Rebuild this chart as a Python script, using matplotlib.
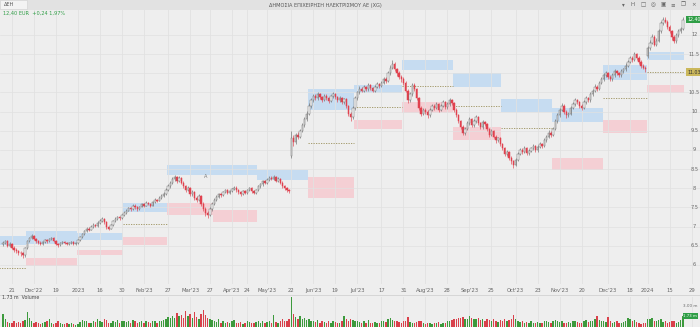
import matplotlib
matplotlib.use("Agg")
import matplotlib.pyplot as plt
from matplotlib.patches import Rectangle
import numpy as np

# ── Data (daily bars, Nov 2022 -> Jan 2024, one line per month) ──────────────
opens = [
    6.55, 6.58, 6.62, 6.50, 6.55, 6.45, 6.40, 6.36, 6.32, 6.30, 6.25, 6.45,
    6.62, 6.70, 6.75, 6.68, 6.62, 6.58, 6.55, 6.60, 6.65, 6.62, 6.68, 6.70, 6.63, 6.55, 6.52, 6.58, 6.60, 6.57, 6.55, 6.58, 6.60, 6.55,
    6.58, 6.65, 6.72, 6.80, 6.88, 6.95, 6.92, 7.00, 7.05, 7.02, 7.10, 7.15, 7.20, 7.12, 7.00, 6.95, 7.05, 7.15, 7.20, 7.25, 7.22,
    7.30, 7.35, 7.42, 7.48, 7.45, 7.55, 7.50, 7.45, 7.52, 7.58, 7.55, 7.62, 7.60, 7.55, 7.65, 7.70, 7.68, 7.75, 7.80, 7.85,
    7.95, 8.05, 8.15, 8.25, 8.30, 8.20, 8.28, 8.15, 8.05, 7.95, 8.00, 7.85, 7.90, 7.75, 7.70, 7.80, 7.60, 7.45, 7.35, 7.30, 7.45,
    7.60, 7.70, 7.78, 7.85, 7.82, 7.90, 7.95, 7.88, 7.92, 7.98, 8.02, 7.95, 7.90, 7.85, 7.92, 7.88, 7.95, 8.00, 7.93, 7.88,
    7.95, 8.05, 8.10, 8.18, 8.15, 8.22, 8.28, 8.25, 8.30, 8.20, 8.25, 8.15, 8.05, 8.00, 7.95, 8.85, 9.30, 9.20, 9.40, 9.35, 9.50, 9.65, 9.80,
    9.95, 10.15, 10.30, 10.40, 10.35, 10.45, 10.38, 10.30, 10.42, 10.35, 10.28, 10.40, 10.45, 10.38, 10.30, 10.35, 10.25, 10.32, 10.15, 9.95, 9.85,
    10.10, 10.35, 10.50, 10.60, 10.55, 10.65, 10.58, 10.70, 10.62, 10.55, 10.65, 10.72, 10.68, 10.75, 10.85, 10.80, 11.00, 11.15, 11.25, 11.10, 11.00, 10.90,
    10.85, 10.75, 10.55, 10.30, 10.45, 10.70, 10.60, 10.35, 10.10, 9.95, 10.05, 10.00, 9.90, 10.05, 10.15, 10.10, 10.20, 10.05, 10.15, 10.25, 10.12, 10.20, 10.30,
    10.22, 10.05, 9.90, 9.75, 9.60, 9.45, 9.55, 9.70, 9.80, 9.65, 9.75, 9.85, 9.70, 9.60, 9.72, 9.68, 9.55, 9.40, 9.50, 9.35, 9.25, 9.30,
    9.15, 9.05, 8.90, 8.95, 8.80, 8.70, 8.62, 8.75, 8.90, 9.00, 8.95, 9.05, 8.92, 8.98, 9.05, 9.10, 9.00, 9.08, 9.15, 9.10, 9.25, 9.35, 9.45,
    9.40, 9.55, 9.75, 9.90, 10.05, 10.15, 10.00, 9.90, 9.95, 10.10, 10.20, 10.30, 10.25, 10.15, 10.10, 10.25, 10.35, 10.30, 10.45, 10.55, 10.65, 10.60, 10.75,
    10.85, 10.95, 11.00, 10.90, 10.85, 10.95, 11.05, 11.00, 10.95, 11.05, 11.10, 11.20, 11.30, 11.40, 11.35, 11.50, 11.40, 11.30, 11.20, 11.15,
    11.45, 11.65, 11.80, 11.95, 11.75, 11.85, 12.10, 12.30, 12.40, 12.35, 12.20, 12.10, 11.95, 11.85, 12.00, 12.10, 12.16,
]
highs = [
    6.63, 6.66, 6.65, 6.59, 6.58, 6.49, 6.44, 6.40, 6.36, 6.34, 6.48, 6.66,
    6.74, 6.80, 6.78, 6.71, 6.66, 6.62, 6.63, 6.69, 6.68, 6.71, 6.74, 6.72, 6.66, 6.58, 6.61, 6.63, 6.63, 6.60, 6.61, 6.63, 6.62, 6.61,
    6.68, 6.76, 6.84, 6.92, 6.99, 6.98, 7.04, 7.09, 7.08, 7.14, 7.19, 7.25, 7.22, 7.14, 7.03, 7.08, 7.18, 7.24, 7.29, 7.28, 7.34,
    7.40, 7.46, 7.52, 7.51, 7.58, 7.58, 7.53, 7.55, 7.62, 7.61, 7.66, 7.65, 7.63, 7.68, 7.74, 7.73, 7.79, 7.84, 7.90, 8.00,
    8.10, 8.20, 8.30, 8.36, 8.33, 8.32, 8.30, 8.18, 8.08, 8.05, 8.03, 7.95, 7.93, 7.80, 7.84, 7.83, 7.64, 7.50, 7.40, 7.50, 7.65,
    7.74, 7.82, 7.89, 7.88, 7.94, 7.99, 7.98, 7.96, 8.02, 8.07, 8.05, 7.98, 7.93, 7.96, 7.95, 7.99, 8.04, 8.03, 7.96, 7.99,
    8.09, 8.14, 8.22, 8.21, 8.26, 8.32, 8.31, 8.35, 8.33, 8.29, 8.28, 8.18, 8.09, 8.04, 7.98, 9.50, 9.38, 9.45, 9.48, 9.56, 9.70, 9.86, 10.02,
    10.22, 10.36, 10.46, 10.45, 10.50, 10.49, 10.42, 10.46, 10.46, 10.39, 10.44, 10.50, 10.48, 10.41, 10.40, 10.38, 10.36, 10.35, 10.18, 10.00, 10.15,
    10.40, 10.55, 10.66, 10.64, 10.70, 10.68, 10.75, 10.73, 10.65, 10.69, 10.77, 10.76, 10.80, 10.90, 10.90, 11.06, 11.22, 11.35, 11.30, 11.15, 11.05, 10.95,
    10.90, 10.80, 10.58, 10.52, 10.76, 10.74, 10.63, 10.38, 10.14, 10.10, 10.09, 10.04, 10.10, 10.20, 10.19, 10.25, 10.23, 10.19, 10.30, 10.28, 10.25, 10.36, 10.34,
    10.25, 10.09, 9.94, 9.79, 9.64, 9.60, 9.75, 9.86, 9.84, 9.80, 9.90, 9.88, 9.74, 9.77, 9.76, 9.71, 9.58, 9.55, 9.53, 9.39, 9.35, 9.33,
    9.19, 9.08, 9.00, 8.98, 8.84, 8.74, 8.80, 8.95, 9.05, 9.04, 9.10, 9.08, 9.03, 9.09, 9.15, 9.13, 9.12, 9.20, 9.19, 9.30, 9.40, 9.51, 9.50,
    9.60, 9.80, 9.96, 10.10, 10.22, 10.19, 10.04, 10.00, 10.15, 10.25, 10.36, 10.34, 10.28, 10.19, 10.30, 10.40, 10.39, 10.50, 10.60, 10.71, 10.70, 10.80, 10.91,
    11.00, 11.06, 11.04, 10.95, 11.00, 11.10, 11.09, 11.04, 11.10, 11.15, 11.26, 11.36, 11.46, 11.45, 11.56, 11.54, 11.44, 11.35, 11.25, 11.20,
    11.72, 11.86, 12.02, 11.99, 11.92, 12.16, 12.36, 12.48, 12.46, 12.40, 12.25, 12.14, 12.00, 12.06, 12.15, 12.22, 12.48,
]
lows = [
    6.50, 6.55, 6.46, 6.47, 6.41, 6.35, 6.31, 6.27, 6.24, 6.18, 6.22, 6.43,
    6.60, 6.67, 6.64, 6.58, 6.54, 6.51, 6.52, 6.57, 6.58, 6.60, 6.65, 6.60, 6.52, 6.48, 6.50, 6.55, 6.54, 6.52, 6.53, 6.56, 6.51, 6.52,
    6.56, 6.63, 6.70, 6.78, 6.85, 6.88, 6.90, 6.97, 6.98, 7.00, 7.07, 7.12, 7.08, 6.95, 6.90, 6.93, 7.03, 7.12, 7.17, 7.18, 7.20,
    7.27, 7.33, 7.40, 7.41, 7.43, 7.46, 7.41, 7.43, 7.50, 7.51, 7.53, 7.56, 7.51, 7.53, 7.62, 7.64, 7.66, 7.72, 7.77, 7.83,
    7.92, 8.02, 8.12, 8.20, 8.15, 8.17, 8.10, 8.00, 7.90, 7.92, 7.80, 7.81, 7.70, 7.64, 7.66, 7.55, 7.40, 7.28, 7.22, 7.27, 7.42,
    7.57, 7.67, 7.75, 7.78, 7.80, 7.87, 7.84, 7.85, 7.90, 7.95, 7.91, 7.86, 7.80, 7.82, 7.84, 7.85, 7.92, 7.89, 7.84, 7.85,
    7.92, 8.02, 8.07, 8.11, 8.12, 8.19, 8.21, 8.22, 8.16, 8.17, 8.11, 8.01, 7.95, 7.90, 7.87, 8.80, 9.10, 9.15, 9.28, 9.32, 9.46, 9.60, 9.76,
    9.90, 10.10, 10.26, 10.30, 10.31, 10.33, 10.25, 10.27, 10.30, 10.22, 10.25, 10.36, 10.33, 10.25, 10.26, 10.20, 10.21, 10.10, 9.88, 9.75, 9.80,
    10.05, 10.31, 10.46, 10.50, 10.51, 10.53, 10.55, 10.57, 10.50, 10.52, 10.61, 10.63, 10.65, 10.71, 10.75, 10.77, 10.96, 11.10, 11.05, 10.94, 10.84, 10.78,
    10.70, 10.50, 10.22, 10.26, 10.42, 10.55, 10.30, 10.04, 9.88, 9.90, 9.95, 9.84, 9.87, 10.01, 10.05, 10.07, 10.00, 10.01, 10.11, 10.07, 10.08, 10.16, 10.17,
    10.00, 9.85, 9.70, 9.54, 9.38, 9.40, 9.51, 9.66, 9.60, 9.61, 9.71, 9.65, 9.55, 9.56, 9.63, 9.50, 9.34, 9.36, 9.30, 9.19, 9.21, 9.10,
    8.99, 8.84, 8.85, 8.74, 8.63, 8.52, 8.58, 8.71, 8.86, 8.90, 8.91, 8.87, 8.88, 8.94, 9.01, 8.95, 8.96, 9.04, 9.05, 9.07, 9.21, 9.31, 9.35,
    9.36, 9.51, 9.71, 9.86, 10.01, 9.95, 9.84, 9.85, 9.91, 10.06, 10.16, 10.20, 10.10, 10.04, 10.06, 10.21, 10.25, 10.26, 10.41, 10.51, 10.55, 10.56, 10.71,
    10.80, 10.90, 10.85, 10.79, 10.81, 10.91, 10.95, 10.90, 10.91, 11.01, 11.06, 11.16, 11.26, 11.30, 11.31, 11.35, 11.25, 11.15, 11.10, 11.04,
    11.40, 11.60, 11.76, 11.70, 11.70, 11.81, 12.06, 12.25, 12.30, 12.15, 12.04, 11.88, 11.78, 11.80, 11.96, 12.05, 12.12,
]
closes = [
    6.58, 6.62, 6.50, 6.55, 6.45, 6.40, 6.36, 6.32, 6.30, 6.25, 6.45, 6.62,
    6.70, 6.75, 6.68, 6.62, 6.58, 6.55, 6.60, 6.65, 6.62, 6.68, 6.70, 6.63, 6.55, 6.52, 6.58, 6.60, 6.57, 6.55, 6.58, 6.60, 6.55, 6.58,
    6.65, 6.72, 6.80, 6.88, 6.95, 6.92, 7.00, 7.05, 7.02, 7.10, 7.15, 7.20, 7.12, 7.00, 6.95, 7.05, 7.15, 7.20, 7.25, 7.22, 7.30,
    7.35, 7.42, 7.48, 7.45, 7.55, 7.50, 7.45, 7.52, 7.58, 7.55, 7.62, 7.60, 7.55, 7.65, 7.70, 7.68, 7.75, 7.80, 7.85, 7.95,
    8.05, 8.15, 8.25, 8.30, 8.20, 8.28, 8.15, 8.05, 7.95, 8.00, 7.85, 7.90, 7.75, 7.70, 7.80, 7.60, 7.45, 7.35, 7.30, 7.45, 7.60,
    7.70, 7.78, 7.85, 7.82, 7.90, 7.95, 7.88, 7.92, 7.98, 8.02, 7.95, 7.90, 7.85, 7.92, 7.88, 7.95, 8.00, 7.93, 7.88, 7.95,
    8.05, 8.10, 8.18, 8.15, 8.22, 8.28, 8.25, 8.30, 8.20, 8.25, 8.15, 8.05, 8.00, 7.95, 7.92, 9.30, 9.20, 9.40, 9.35, 9.50, 9.65, 9.80, 9.95,
    10.15, 10.30, 10.40, 10.35, 10.45, 10.38, 10.30, 10.42, 10.35, 10.28, 10.40, 10.45, 10.38, 10.30, 10.35, 10.25, 10.32, 10.15, 9.95, 9.85, 10.10,
    10.35, 10.50, 10.60, 10.55, 10.65, 10.58, 10.70, 10.62, 10.55, 10.65, 10.72, 10.68, 10.75, 10.85, 10.80, 11.00, 11.15, 11.25, 11.10, 11.00, 10.90, 10.85,
    10.75, 10.55, 10.30, 10.45, 10.70, 10.60, 10.35, 10.10, 9.95, 10.05, 10.00, 9.90, 10.05, 10.15, 10.10, 10.20, 10.05, 10.15, 10.25, 10.12, 10.20, 10.30, 10.22,
    10.05, 9.90, 9.75, 9.60, 9.45, 9.55, 9.70, 9.80, 9.65, 9.75, 9.85, 9.70, 9.60, 9.72, 9.68, 9.55, 9.40, 9.50, 9.35, 9.25, 9.30, 9.15,
    9.05, 8.90, 8.95, 8.80, 8.70, 8.62, 8.75, 8.90, 9.00, 8.95, 9.05, 8.92, 8.98, 9.05, 9.10, 9.00, 9.08, 9.15, 9.10, 9.25, 9.35, 9.45, 9.40,
    9.55, 9.75, 9.90, 10.05, 10.15, 10.00, 9.90, 9.95, 10.10, 10.20, 10.30, 10.25, 10.15, 10.10, 10.25, 10.35, 10.30, 10.45, 10.55, 10.65, 10.60, 10.75, 10.85,
    10.95, 11.00, 10.90, 10.85, 10.95, 11.05, 11.00, 10.95, 11.05, 11.10, 11.20, 11.30, 11.40, 11.35, 11.50, 11.40, 11.30, 11.20, 11.15, 11.10,
    11.65, 11.80, 11.95, 11.75, 11.85, 12.10, 12.30, 12.40, 12.35, 12.20, 12.10, 11.95, 11.85, 12.00, 12.10, 12.16, 12.40,
]
volumes = [  # millions of shares
    2.0, 1.2, 0.8, 0.6, 0.7, 0.9, 0.6, 0.8, 0.7, 1.0, 1.1, 2.3,
    1.4, 0.9, 0.7, 0.8, 0.6, 0.5, 0.7, 0.8, 0.9, 1.2, 0.6, 0.5, 0.7, 0.9, 0.6, 0.5, 0.4, 0.6, 0.5, 0.7, 0.4, 0.3,
    0.5, 0.8, 1.1, 0.9, 1.0, 0.7, 0.6, 0.9, 0.8, 1.2, 0.9, 0.8, 1.3, 1.1, 0.7, 0.6, 0.9, 0.8, 1.1, 0.7, 0.9,
    1.0, 0.8, 0.9, 0.7, 1.1, 0.9, 0.6, 0.8, 1.0, 0.7, 0.9, 0.8, 0.6, 1.0, 0.9, 0.7, 1.0, 0.9, 1.1, 1.3,
    1.6, 1.4, 1.8, 1.5, 2.2, 1.7, 1.9, 1.5, 2.6, 1.8, 2.0, 1.4, 2.4, 1.6, 1.3, 2.1, 2.7, 1.9, 1.5, 1.2, 1.1,
    1.0, 0.8, 1.2, 0.7, 0.9, 0.6, 0.8, 0.7, 0.9, 1.1, 0.6, 0.7, 0.8, 0.5, 0.6, 0.9, 0.8, 0.6, 0.7, 0.8,
    0.9, 0.7, 1.0, 0.6, 0.8, 0.9, 0.7, 1.9, 0.8, 0.6, 0.9, 1.2, 1.0, 1.0, 1.3, 4.7, 2.0, 1.6, 1.3, 1.8, 1.2, 1.5, 1.1,
    1.2, 1.0, 0.9, 0.8, 1.1, 0.7, 0.9, 0.8, 0.6, 0.9, 0.7, 1.0, 0.8, 0.6, 0.7, 0.9, 1.7, 1.2, 1.0, 1.3, 1.1,
    0.9, 1.0, 0.8, 0.7, 0.9, 0.6, 1.1, 0.7, 0.6, 0.8, 0.7, 0.6, 0.9, 1.0, 0.8, 1.2, 1.4, 1.1, 0.9, 1.0, 0.8, 0.7,
    0.9, 1.0, 1.6, 0.8, 0.7, 0.6, 0.8, 1.0, 0.9, 0.6, 0.5, 0.7, 0.6, 0.5, 0.7, 0.6, 0.8, 0.5, 0.6, 0.7, 0.9, 1.0, 1.1,
    1.3, 1.2, 1.4, 1.5, 1.6, 1.3, 1.2, 1.8, 1.4, 1.2, 1.3, 1.5, 1.1, 1.2, 1.0, 1.3, 1.1, 0.9, 1.2, 1.0, 0.8, 1.1,
    1.0, 1.2, 0.9, 1.1, 1.3, 1.9, 1.2, 1.0, 0.8, 0.9, 0.7, 0.8, 0.6, 0.9, 0.7, 0.6, 0.8, 0.7, 0.6, 0.9, 1.0, 0.8, 0.7,
    0.9, 1.1, 1.0, 0.8, 0.9, 0.7, 0.6, 0.8, 0.7, 0.9, 1.0, 0.8, 0.7, 0.6, 0.9, 1.1, 0.8, 1.0, 0.9, 1.2, 1.8, 1.1, 0.9,
    1.0, 0.8, 1.6, 0.9, 0.7, 0.8, 0.9, 0.6, 0.7, 0.8, 1.0, 1.4, 1.2, 0.9, 1.1, 0.8, 0.6, 0.5, 0.7, 0.6,
    1.3, 1.2, 1.5, 1.0, 0.9, 1.1, 1.2, 0.8, 0.9, 0.7, 0.8, 1.0, 0.9, 0.7, 0.8, 1.1, 1.73,
]

# monthly range boxes (bar index where each month starts / ends)
month_start = [-2, 11, 34, 55, 75, 96, 116, 139, 160, 182, 205, 227, 250, 273, 293]
month_end   = [11, 34, 55, 75, 96, 116, 139, 160, 182, 205, 227, 250, 273, 293, 310]
blue_lo = [6.53, 6.56, 6.65, 7.39, 8.35, 8.35, 8.22, 10.04, 10.49, 11.09, 10.65, 9.99, 9.73, 10.83, 11.35]
blue_hi = [6.75, 6.89, 6.83, 7.62, 8.61, 8.61, 8.48, 10.59, 10.70, 11.35, 11.01, 10.33, 10.10, 11.22, 11.56]
red_lo  = [None, 5.97, 6.26, 6.52, 7.30, 7.12, None, 7.76, 9.55, 9.97, 9.26, None, 8.48, 9.44, 10.49]
red_hi  = [None, 6.18, 6.39, 6.73, 7.62, 7.43, None, 8.30, 9.78, 10.25, 9.60, None, 8.79, 9.78, 10.70]
mid_lvl = [5.92, None, None, 7.07, None, None, None, 9.18, 10.12, 10.67, 10.15, 9.57, None, 10.36, 11.03]

tick_pos = [4, 14, 24, 34, 44, 54, 64, 75, 85, 94, 104, 111, 120, 131, 141, 151,
            161, 172, 182, 192, 202, 212, 222, 233, 243, 253, 263, 275, 285, 293, 303, 313]
tick_labels = ["21", "Dec'22", "19", "2023", "16", "30", "Feb'23", "27", "Mar'23", "27",
               "Apr'23", "24", "May'23", "22", "Jun'23", "19", "Jul'23", "17", "31",
               "Aug'23", "28", "Sep'23", "25", "Oct'23", "23", "Nov'23", "20", "Dec'23",
               "18", "2024", "15", "29"]
price_levels = [6, 6.5, 7, 7.5, 8, 8.5, 9, 9.5, 10, 10.5, 11, 11.5, 12]

# ── Style ─────────────────────────────────────────────────────────────────────
W, H = 700, 327
BG = "#eeeeee"
GRID = "#e1e1e1"
UP_FILL, UP_EDGE = "#fbfbfb", "#6e6e6e"
DOWN = "#e0414e"
VOL_UP, VOL_DOWN = "#3d9a3d", "#d9414b"
BLUE_BOX, RED_BOX = "#c6dcf1", "#f4cfd4"
MID = "#9a8f5a"


def px_rect(x0, y0, x1, y1):
    return [x0 / W, 1 - y1 / H, (x1 - x0) / W, (y1 - y0) / H]


def ftext(x, y, s, **kw):
    kw.setdefault("va", "center")
    kw.setdefault("fontsize", 3.6)
    return fig.text(x / W, 1 - y / H, s, **kw)


o, h, l, c = map(np.array, (opens, highs, lows, closes))
v = np.array(volumes)
x = np.arange(len(c))
up = c >= o

fig = plt.figure(figsize=(W / 100, H / 100), dpi=100)
fig.patch.set_facecolor(BG)

ax = fig.add_axes(px_rect(0, 10, 700, 284))
axv = fig.add_axes(px_rect(0, 297, 700, 327))
for a in (ax, axv):
    a.set_facecolor(BG)
    for s in a.spines.values():
        s.set_visible(False)
    a.set_xlim(-1.4, 316.8)
    a.set_xticks(tick_pos)
    a.grid(axis="x", color=GRID, lw=0.6, zorder=0)
    a.tick_params(length=0)

# ── Price pane ────────────────────────────────────────────────────────────────
ax.set_ylim(5.504, 12.652)
ax.set_yticks(price_levels)
ax.grid(axis="y", color=GRID, lw=0.5, zorder=0)
ax.set_yticklabels([])
ax.set_xticklabels(tick_labels, fontsize=3.8, color="#666666")
ax.tick_params(axis="x", pad=3)

for i in range(len(month_start)):
    s, e = month_start[i], month_end[i]
    ax.add_patch(Rectangle((s - 0.5, blue_lo[i]), e - s, blue_hi[i] - blue_lo[i],
                           fc=BLUE_BOX, ec="none", zorder=1))
    if red_lo[i] is not None:
        ax.add_patch(Rectangle((s - 0.5, red_lo[i]), e - s, red_hi[i] - red_lo[i],
                               fc=RED_BOX, ec="none", zorder=1))
    if mid_lvl[i] is not None:
        ax.hlines(mid_lvl[i], s - 0.5, e - 0.5, colors=MID, lw=0.6,
                  linestyles=(0, (1.5, 1.5)), zorder=2)

ax.vlines(x, l, h, colors=np.where(up, UP_EDGE, DOWN), lw=0.45, zorder=3)
body_lo = np.minimum(o, c)
body_h = np.maximum(np.abs(c - o), 0.02)
ax.bar(x, body_h, bottom=body_lo, width=0.62,
       color=np.where(up, UP_FILL, DOWN), edgecolor=np.where(up, UP_EDGE, DOWN),
       lw=0.35, zorder=4)

tr = ax.get_yaxis_transform()
for p in price_levels:
    if abs(p - mid_lvl[-1]) < 0.15 or abs(p - c[-1]) < 0.15:
        continue  # hidden behind the price badges
    ax.text(0.992, p, f"{p:g}", transform=tr, ha="center", va="center",
            fontsize=3.6, color="#666666", zorder=6)
ax.text(0.992, c[-1], f"{c[-1]:.2f}", transform=tr, ha="center", va="center",
        fontsize=3.4, color="white", zorder=7,
        bbox=dict(boxstyle="square,pad=0.25", fc="#2f9e46", ec="none"))
ax.text(0.992, mid_lvl[-1], f"{mid_lvl[-1]:.2f}", transform=tr, ha="center",
        va="center", fontsize=3.4, color="#333333", zorder=7,
        bbox=dict(boxstyle="square,pad=0.25", fc="#cbb85c", ec="none"))
ax.text(92, 8.30, "A", ha="center", va="center", fontsize=3.6, color="#777777", zorder=5)

# ── Volume pane ───────────────────────────────────────────────────────────────
axv.set_ylim(0, 4.75)
axv.set_yticks([])
axv.set_xticklabels([])
axv.bar(x, v, width=0.62, color=np.where(up, VOL_UP, VOL_DOWN), lw=0, zorder=3)
trv = axv.get_yaxis_transform()
axv.text(0.996, 3.4, "3.00 m", transform=trv, ha="right", va="center",
         fontsize=3.0, color="#666666")
axv.text(0.996, v[-1], f"{v[-1]:.2f} m", transform=trv, ha="right", va="center",
         fontsize=2.8, color="white",
         bbox=dict(boxstyle="square,pad=0.2", fc="#2f9e46", ec="none"))

fig.add_artist(Rectangle((0, 1 - 295.5 / H), 1, 0.6 / H, transform=fig.transFigure,
                         fc="#d6d6d6", ec="none"))
ftext(2, 297.5, f"{v[-1]:.2f} m  Volume", color="#444444", fontsize=3.4)

# ── Header ────────────────────────────────────────────────────────────────────
fig.add_artist(Rectangle((0, 1 - 10 / H), 1, 10 / H, transform=fig.transFigure,
                         fc="#e2e2e2", ec="none"))
fig.add_artist(Rectangle((0, 1 - 9 / H), 27 / W, 9 / H, transform=fig.transFigure,
                         fc="#f3f3f3", ec="#d0d0d0", lw=0.4))
ftext(4, 4.5, "ΔΕΗ", color="#555555")
ftext(325, 5, "ΔΗΜΟΣΙΑ ΕΠΙΧΕΙΡΗΣΗ ΗΛΕΚΤΡΙΣΜΟΥ ΑΕ (XG)", ha="center", color="#555555")
for xi, ch in zip([623, 633, 643, 653, 663, 673, 683, 694],
                  ["▾", "H", "□", "◎", "▣", "≡", "❐", "×"]):
    ftext(xi, 5, ch, ha="center", color="#666666", fontsize=4)
chg = c[-1] - c[-2]
ftext(3, 13.5, f"{c[-1]:.2f} EUR  +{chg:.2f} {chg / c[-2] * 100:.2f}%".replace(".", ","),
      color="#2f9e46")

fig.savefig("out.png", dpi=100, facecolor=BG)
